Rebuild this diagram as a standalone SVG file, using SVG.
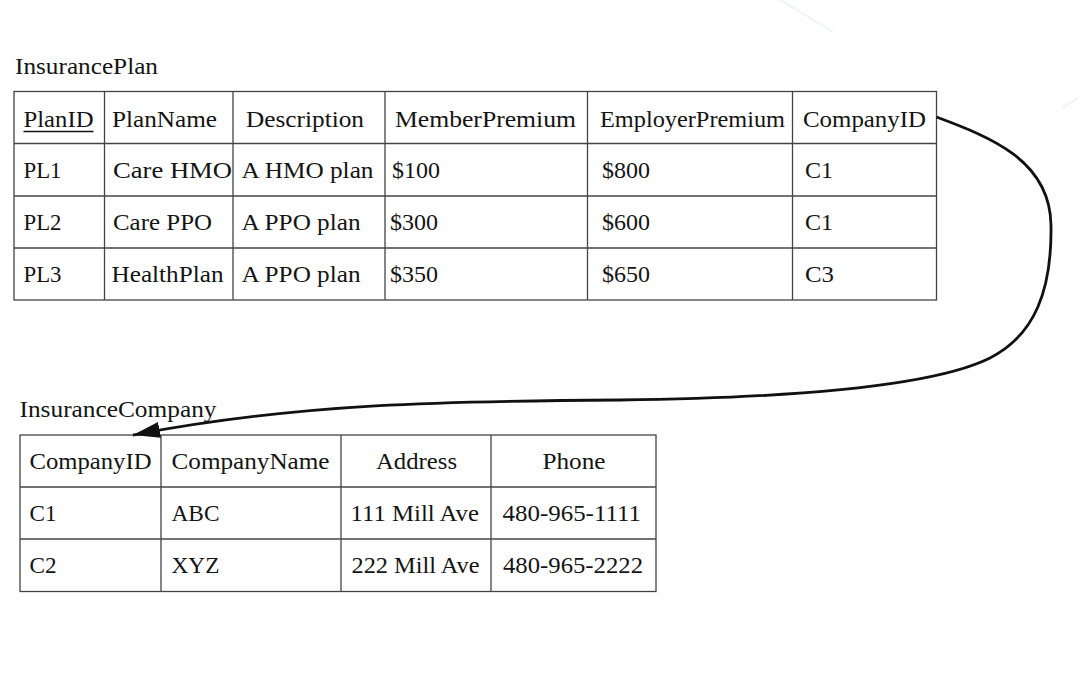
<svg xmlns="http://www.w3.org/2000/svg" width="1078" height="678" viewBox="0 0 1078 678">
  <style>
    text { font-family: "Liberation Serif", "Times New Roman", serif; font-size: 24px; fill: #141414; }
    .grid { fill: #ffffff; stroke: #444444; stroke-width: 1.3; }
    .ln { stroke: #444444; stroke-width: 1.3; }
    .conn { fill: none; stroke: #111111; stroke-width: 2.8; }
  </style>
  <defs>
    <marker id="arrow" markerUnits="userSpaceOnUse" markerWidth="30" markerHeight="16" refX="27" refY="8" orient="auto">
      <path d="M0,0 L27,8 L0,16 Z" fill="#111111"/>
    </marker>
  </defs>
  <rect x="0" y="0" width="1078" height="678" fill="#ffffff"/>
  <g id="background-streaks" stroke="#edf5f9" stroke-width="2" fill="none">
    <line x1="780" y1="0" x2="833" y2="32"/>
    <line x1="1062" y1="108" x2="1078" y2="98"/>
  </g>

  <g id="InsurancePlan">
    <text x="15" y="74" textLength="143" lengthAdjust="spacingAndGlyphs">InsurancePlan</text>
    <rect class="grid" x="14" y="91.5" width="922.5" height="208.5"/>
    <line class="ln" x1="14" y1="143.5" x2="936.5" y2="143.5"/>
    <line class="ln" x1="14" y1="196" x2="936.5" y2="196"/>
    <line class="ln" x1="14" y1="248" x2="936.5" y2="248"/>
    <line class="ln" x1="104.5" y1="91.5" x2="104.5" y2="300"/>
    <line class="ln" x1="233" y1="91.5" x2="233" y2="300"/>
    <line class="ln" x1="385" y1="91.5" x2="385" y2="300"/>
    <line class="ln" x1="587.5" y1="91.5" x2="587.5" y2="300"/>
    <line class="ln" x1="792.5" y1="91.5" x2="792.5" y2="300"/>

    <text x="23.5" y="127" textLength="70" lengthAdjust="spacingAndGlyphs">PlanID</text>
    <line x1="23.5" y1="131.5" x2="93.5" y2="131.5" stroke="#141414" stroke-width="1.3"/>
    <text x="112" y="127" textLength="105" lengthAdjust="spacingAndGlyphs">PlanName</text>
    <text x="246" y="127" textLength="118" lengthAdjust="spacingAndGlyphs">Description</text>
    <text x="395" y="127" textLength="181" lengthAdjust="spacingAndGlyphs">MemberPremium</text>
    <text x="600" y="127" textLength="185" lengthAdjust="spacingAndGlyphs">EmployerPremium</text>
    <text x="803" y="127" textLength="123" lengthAdjust="spacingAndGlyphs">CompanyID</text>

    <text x="23.5" y="178" textLength="38" lengthAdjust="spacingAndGlyphs">PL1</text>
    <text x="113" y="178" textLength="119" lengthAdjust="spacingAndGlyphs">Care HMO</text>
    <text x="241.5" y="178" textLength="132" lengthAdjust="spacingAndGlyphs">A HMO plan</text>
    <text x="392" y="178" textLength="48" lengthAdjust="spacingAndGlyphs">$100</text>
    <text x="602" y="178" textLength="48" lengthAdjust="spacingAndGlyphs">$800</text>
    <text x="805" y="178" textLength="28" lengthAdjust="spacingAndGlyphs">C1</text>

    <text x="23.5" y="230" textLength="38" lengthAdjust="spacingAndGlyphs">PL2</text>
    <text x="113" y="230" textLength="99" lengthAdjust="spacingAndGlyphs">Care PPO</text>
    <text x="241.5" y="230" textLength="119" lengthAdjust="spacingAndGlyphs">A PPO plan</text>
    <text x="390" y="230" textLength="48" lengthAdjust="spacingAndGlyphs">$300</text>
    <text x="602" y="230" textLength="48" lengthAdjust="spacingAndGlyphs">$600</text>
    <text x="805" y="230" textLength="28" lengthAdjust="spacingAndGlyphs">C1</text>

    <text x="23.5" y="282" textLength="38" lengthAdjust="spacingAndGlyphs">PL3</text>
    <text x="111.5" y="282" textLength="112" lengthAdjust="spacingAndGlyphs">HealthPlan</text>
    <text x="241.5" y="282" textLength="119" lengthAdjust="spacingAndGlyphs">A PPO plan</text>
    <text x="390" y="282" textLength="48" lengthAdjust="spacingAndGlyphs">$350</text>
    <text x="602" y="282" textLength="48" lengthAdjust="spacingAndGlyphs">$650</text>
    <text x="805" y="282" textLength="29" lengthAdjust="spacingAndGlyphs">C3</text>
  </g>

  <g id="InsuranceCompany">
    <text x="19.5" y="417" textLength="197" lengthAdjust="spacingAndGlyphs">InsuranceCompany</text>
    <rect class="grid" x="20" y="435" width="636" height="156.5"/>
    <line class="ln" x1="20" y1="487" x2="656" y2="487"/>
    <line class="ln" x1="20" y1="539" x2="656" y2="539"/>
    <line class="ln" x1="161" y1="435" x2="161" y2="591.5"/>
    <line class="ln" x1="341" y1="435" x2="341" y2="591.5"/>
    <line class="ln" x1="491" y1="435" x2="491" y2="591.5"/>

    <text x="29.5" y="469" textLength="122" lengthAdjust="spacingAndGlyphs">CompanyID</text>
    <text x="171.5" y="469" textLength="158" lengthAdjust="spacingAndGlyphs">CompanyName</text>
    <text x="376" y="469" textLength="81" lengthAdjust="spacingAndGlyphs">Address</text>
    <text x="542.5" y="469" textLength="63" lengthAdjust="spacingAndGlyphs">Phone</text>

    <text x="29.5" y="521" textLength="27" lengthAdjust="spacingAndGlyphs">C1</text>
    <text x="171.5" y="521" textLength="48" lengthAdjust="spacingAndGlyphs">ABC</text>
    <text x="350.5" y="521" textLength="128.5" lengthAdjust="spacingAndGlyphs">111 Mill Ave</text>
    <text x="502.5" y="521" textLength="138.5" lengthAdjust="spacingAndGlyphs">480-965-1111</text>

    <text x="29.5" y="573" textLength="27" lengthAdjust="spacingAndGlyphs">C2</text>
    <text x="171.5" y="573" textLength="48" lengthAdjust="spacingAndGlyphs">XYZ</text>
    <text x="351.5" y="573" textLength="128" lengthAdjust="spacingAndGlyphs">222 Mill Ave</text>
    <text x="503" y="573" textLength="140" lengthAdjust="spacingAndGlyphs">480-965-2222</text>
  </g>

  <g id="connectors">
    <path class="conn" marker-end="url(#arrow)" d="M 936.5 117 C 990 137, 1050 160, 1051 225 C 1052 290, 1035 335, 990 358 C 930 388, 780 398, 620 400 C 450 401, 300 403, 133 435"/>
  </g>
</svg>
